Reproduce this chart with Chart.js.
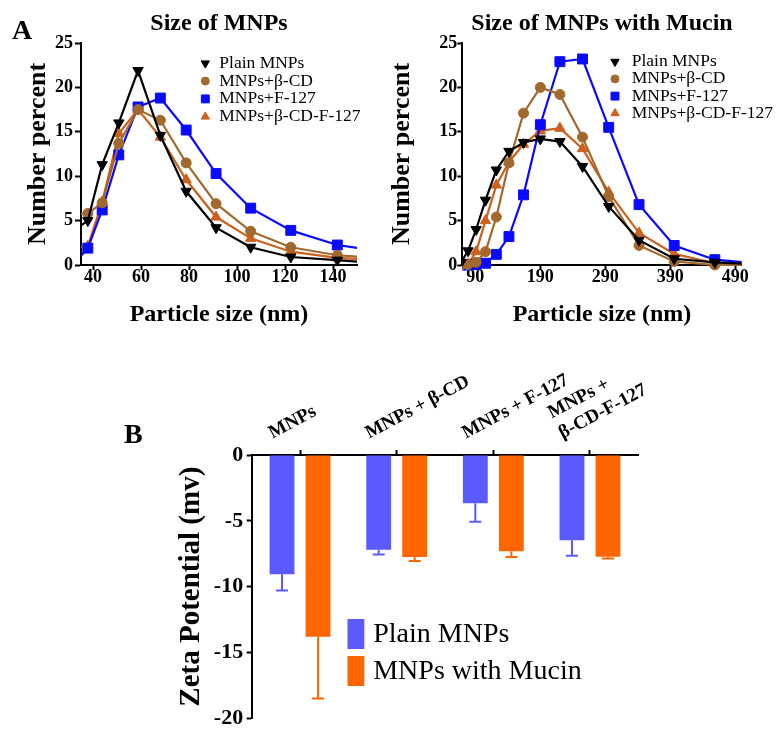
<!DOCTYPE html>
<html><head><meta charset="utf-8">
<script src="https://cdn.jsdelivr.net/npm/chart.js@4.4.1/dist/chart.umd.min.js"></script>
<style>
html,body{margin:0;padding:0;background:#fff;overflow:hidden;width:777px;height:735px;position:relative;}
canvas{position:absolute;}
.lbl{position:absolute;font-family:'Liberation Serif','Times New Roman',serif;font-weight:bold;font-size:28px;line-height:1;color:#000;}
</style></head><body>
<canvas id="c1" width="390" height="330" style="left:0;top:0"></canvas>
<canvas id="c2" width="397" height="330" style="left:380px;top:0"></canvas>
<canvas id="c3" width="777" height="405" style="left:0;top:330px"></canvas>
<div class="lbl" style="left:12px;top:16px">A</div>
<div class="lbl" style="left:124px;top:420px">B</div>
<script>
// ---------- DATA ----------
const seriesNames = ['Plain MNPs', 'MNPs+β-CD', 'MNPs+F-127', 'MNPs+β-CD-F-127'];

// Panel A left: Size of MNPs
const sizeBinsA = [32.67, 37.84, 43.82, 50.75, 58.77, 68.06, 78.82, 91.28, 105.7, 122.4, 141.8, 164.2];
const plainA    = [4.0, 5.0, 11.3, 16.0, 21.9, 14.6, 8.3, 4.2, 2.0, 0.9, 0.55, 0.1];
const betaCDA   = [5.7, 5.8, 7.0, 13.7, 17.5, 16.3, 11.5, 6.9, 3.8, 2.0, 1.1, 0.7];
const f127A     = [0.3, 1.9, 6.2, 12.4, 17.8, 18.8, 15.2, 10.3, 6.4, 3.9, 2.25, 1.4];
const betaF127A = [2.0, 2.1, 7.1, 14.8, 17.5, 14.4, 9.6, 5.4, 3.0, 1.5, 0.8, 0.5];
const xTicksA = [40, 60, 80, 100, 120, 140];

// Panel A right: Size of MNPs with Mucin
const sizeBinsB = [68.06, 78.82, 91.28, 105.7, 122.4, 141.8, 164.2, 190.1, 220.2, 255.0, 295.3, 342.0, 396.1, 458.7, 531.2];
const plainB    = [0.3, 1.6, 4.0, 7.3, 10.7, 12.8, 13.8, 14.2, 13.9, 11.1, 6.6, 2.8, 0.7, 0.3, 0.05];
const betaCDB   = [0, 0.05, 0.3, 1.5, 5.4, 11.5, 17.1, 20.0, 19.2, 14.4, 7.7, 2.2, 0.4, 0.0, 0];
const f127B     = [0, 0, 0.05, 0.2, 1.2, 3.2, 7.9, 15.8, 22.9, 23.2, 15.5, 6.8, 2.2, 0.6, 0.1];
const betaF127B = [0, 0.1, 1.5, 5.0, 9.0, 11.6, 13.6, 15.1, 15.4, 13.1, 8.2, 3.6, 1.25, 0.2, 0.05];
const xTicksB = [90, 190, 290, 390, 490];

const yTicksNumber = [0, 5, 10, 15, 20, 25];

// Panel B: Zeta potential
const zetaCategories = ['MNPs', 'MNPs + β-CD', 'MNPs + F-127', ['MNPs +', 'β-CD-F-127']];
const zetaPlain     = [-9.05, -7.2, -3.67, -6.47];
const zetaPlainErr  = [1.25, 0.35, 1.4, 1.18];
const zetaMucin     = [-13.8, -7.75, -7.32, -7.72];
const zetaMucinErr  = [4.7, 0.3, 0.43, 0.15];
const zetaSeries    = ['Plain MNPs', 'MNPs with Mucin'];
const yTicksZeta    = [0, -5, -10, -15, -20];

// ---------- STYLE ----------
const FAM = "'Liberation Serif','Times New Roman',serif";
const lineStyles = [
  {color:'#000000', pointStyle:'triangle', rot:180, r:6},
  {color:'#a2692e', pointStyle:'circle', rot:0, r:5},
  {color:'#0a0aff', pointStyle:'rect', rot:0, r:7},
  {color:'#cc601c', pointStyle:'triangle', rot:0, r:6}
];

const pointLegend = {
  id:'pointLegend',
  afterDraw(chart, args, o){
    const {ctx, chartArea:a} = chart;
    ctx.save();
    ctx.font = o.font; ctx.textBaseline = 'middle'; ctx.textAlign = 'left';
    chart.data.datasets.forEach((ds,i)=>{
      const y = a.top + o.y + i*o.dy;
      ctx.fillStyle = ds.borderColor; ctx.strokeStyle = ds.borderColor; ctx.lineWidth = 1;
      Chart.helpers.drawPoint(ctx, {pointStyle: ds.pointStyle, rotation: ds.pointRotation||0,
        radius: ds.pointRadius*0.8, borderWidth:1}, a.left + o.markerX, y);
      ctx.fillStyle = '#000';
      ctx.fillText(ds.label, a.left + o.textX, y);
    });
    ctx.restore();
  }
};

function makeLineChart(id, cfg){
  const datasets = cfg.series.map((vals,i)=>({
    label: seriesNames[i],
    data: cfg.x.map((xv,j)=>({x:xv, y:vals[j]})),
    borderColor: lineStyles[i].color,
    backgroundColor: lineStyles[i].color,
    pointStyle: lineStyles[i].pointStyle,
    pointRotation: lineStyles[i].rot,
    pointRadius: lineStyles[i].r,
    pointBorderWidth: 1,
    borderWidth: 2.2,
    tension: 0,
    clip: {left:0, right:0, top:8, bottom:8}
  }));
  return new Chart(document.getElementById(id), {
    type:'line',
    data:{datasets},
    options:{
      responsive:false, animation:false, events:[],
      layout:{autoPadding:false, padding:{left:0, right:cfg.padRight, top:0, bottom:0}},
      plugins:{
        legend:{display:false}, tooltip:{enabled:false},
        title:{display:true, text:cfg.title, fullSize:false, color:'#000',
          font:{family:FAM, size:24, weight:'bold', lineHeight:1.2}, padding:{top:9.6, bottom:4.6}},
        pointLegend: cfg.legend
      },
      scales:{
        x:{type:'linear', min:cfg.xmin, max:cfg.xmax,
          afterBuildTicks: s => { s.ticks = cfg.xticks.map(v=>({value:v})); },
          afterFit: s => { s.height = 65; },
          grid:{display:true, drawOnChartArea:false, drawTicks:true, tickLength:5, tickColor:'#000', tickWidth:2, color:'#000'},
          border:{display:true, color:'#000', width:2},
          ticks:{color:'#000', font:{family:FAM, size:18, weight:'bold', lineHeight:1}, padding:-2, maxRotation:0, autoSkip:false},
          title:{display:true, text:'Particle size (nm)', color:'#000', font:{family:FAM, size:24, weight:'bold', lineHeight:1.2}, padding:{top:0, bottom:0.6}}
        },
        y:{type:'linear', min:0, max:25,
          afterBuildTicks: s => { s.ticks = yTicksNumber.map(v=>({value:v})); },
          afterFit: s => { s.width = cfg.yWidth; },
          grid:{display:true, drawOnChartArea:false, drawTicks:true, tickLength:cfg.ytl, tickColor:'#000', tickWidth:2, color:'#000'},
          border:{display:true, color:'#000', width:2},
          ticks:{color:'#000', font:{family:FAM, size:18, weight:'bold'}, padding:cfg.ypad},
          title:{display:true, text:'Number percent', color:'#000', font:{family:FAM, size:26, weight:'bold', lineHeight:1.2}, padding:{top:cfg.yTitlePad, bottom:0}}
        }
      }
    },
    plugins:[pointLegend]
  });
}

makeLineChart('c1', {
  title:'Size of MNPs', x:sizeBinsA, series:[plainA, betaCDA, f127A, betaF127A],
  xmin:35, xmax:150, xticks:xTicksA, padRight:33, yWidth:81, ytl:6, ypad:2, yTitlePad:22.7,
  legend:{font:"17.5px "+FAM, markerX:124.3, textX:138.3, y:20.3, dy:17.8}
});
makeLineChart('c2', {
  title:'Size of MNPs with Mucin', x:sizeBinsB, series:[plainB, betaCDB, f127B, betaF127B],
  xmin:70, xmax:500, xticks:xTicksB, padRight:35.3, yWidth:82.3, ytl:5, ypad:0, yTitlePad:6.4,
  legend:{font:"17.5px "+FAM, markerX:152.7, textX:169.4, y:18.7, dy:17.2}
});

// ---------- BAR CHART ----------
const barColors = ['#5a5aff', '#ff6600'];
const zetaErrs = [zetaPlainErr, zetaMucinErr];

const errorBars = {
  id:'errorBars',
  afterDatasetsDraw(chart){
    const ctx = chart.ctx, ys = chart.scales.y;
    chart.data.datasets.forEach((ds,i)=>{
      const meta = chart.getDatasetMeta(i);
      meta.data.forEach((bar,j)=>{
        const yEnd = ys.getPixelForValue(ds.data[j] - zetaErrs[i][j]);
        ctx.save();
        ctx.strokeStyle = ds.backgroundColor; ctx.lineWidth = 2;
        ctx.beginPath();
        ctx.moveTo(bar.x, bar.y); ctx.lineTo(bar.x, yEnd);
        ctx.moveTo(bar.x-6, yEnd); ctx.lineTo(bar.x+6, yEnd);
        ctx.stroke(); ctx.restore();
      });
    });
  }
};
const boxLegend = {
  id:'boxLegend',
  afterDraw(chart, args, o){
    const {ctx, chartArea:a} = chart;
    ctx.save();
    ctx.font = o.font; ctx.textBaseline='middle'; ctx.textAlign='left';
    chart.data.datasets.forEach((ds,i)=>{
      const top = a.top + o.y + i*o.dy;
      ctx.fillStyle = ds.backgroundColor;
      ctx.fillRect(a.left + o.boxX, top, o.boxW, o.boxH);
      ctx.fillStyle = '#000';
      ctx.fillText(ds.label, a.left + o.textX, top + o.boxH/2 + 1);
    });
    ctx.restore();
  }
};

new Chart(document.getElementById('c3'), {
  type:'bar',
  data:{
    labels: zetaCategories,
    datasets:[
      {label:zetaSeries[0], data:zetaPlain, backgroundColor:barColors[0], borderWidth:0},
      {label:zetaSeries[1], data:zetaMucin, backgroundColor:barColors[1], borderWidth:0}
    ]
  },
  options:{
    responsive:false, animation:false, events:[],
    categoryPercentage:0.745, barPercentage:0.69,
    layout:{autoPadding:false, padding:{left:0, right:138.7, top:0, bottom:15}},
    plugins:{
      legend:{display:false}, tooltip:{enabled:false}, title:{display:false},
      boxLegend:{font:"28px "+FAM, boxX:95.8, boxW:16.8, boxH:30, textX:121.5, y:164, dy:37}
    },
    scales:{
      x:{position:'top',
        afterFit: s => { s.height = 125; },
        grid:{display:true, offset:false, drawOnChartArea:false, drawTicks:true, tickLength:5, tickColor:'#000', tickWidth:2, color:'#000'},
        border:{display:true, color:'#000', width:2},
        ticks:{color:'#000', font:{family:FAM, size:19, weight:'bold', lineHeight:1.2}, minRotation:28, maxRotation:28, padding:5.6, labelOffset:-19, autoSkip:false}
      },
      y:{min:-20, max:0,
        afterBuildTicks: s => { s.ticks = yTicksZeta.map(v=>({value:v})); },
        afterFit: s => { s.width = 251.7; },
        grid:{display:true, drawOnChartArea:false, drawTicks:true, tickLength:5, tickColor:'#000', tickWidth:2, color:'#000'},
        border:{display:true, color:'#000', width:2},
        ticks:{color:'#000', font:{family:FAM, size:22, weight:'bold'}, padding:3.5},
        title:{display:true, text:'Zeta Potential (mv)', color:'#000', font:{family:FAM, size:29, weight:'bold', lineHeight:1.2}, padding:{top:174.6, bottom:0}}
      }
    }
  },
  plugins:[errorBars, boxLegend]
});
</script>
</body></html>
